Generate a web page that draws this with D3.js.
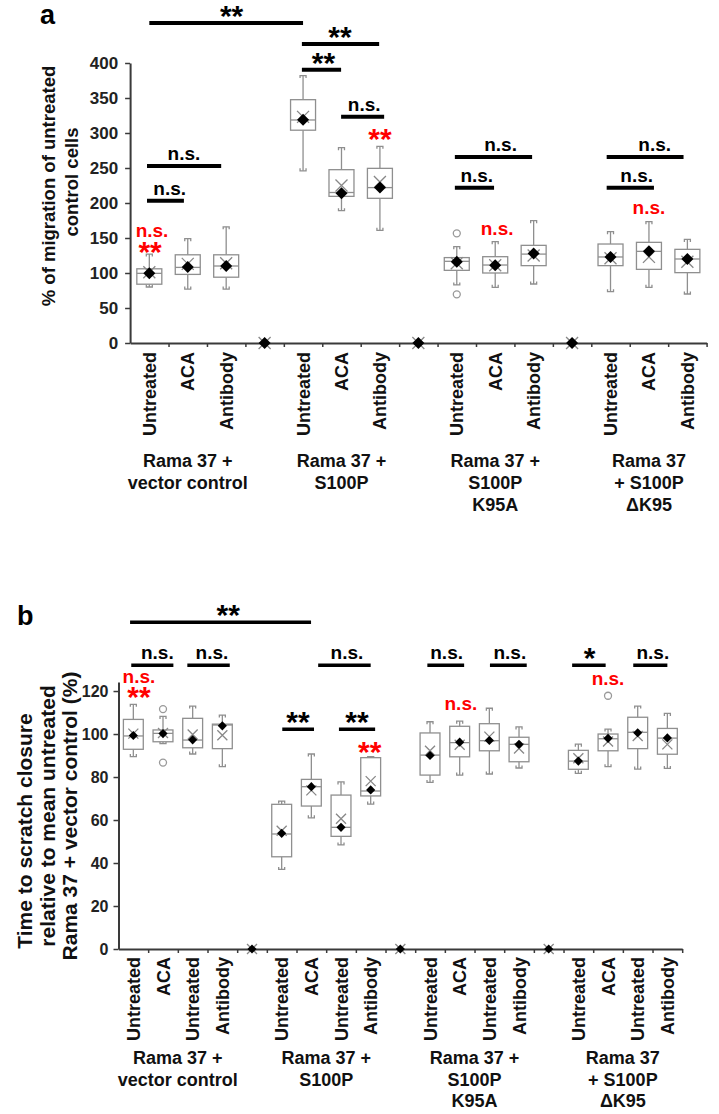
<!DOCTYPE html>
<html><head><meta charset="utf-8">
<script src="https://cdn.jsdelivr.net/npm/d3@7"></script>
<style>
body{margin:0;background:#fff}
text{font-family:"Liberation Sans",Arial,Helvetica,sans-serif;font-weight:bold}
</style>
</head><body>
<svg id="chart" width="719" height="1114"></svg>
<script>
// ---------------- Panel a data ----------------
const catsA = ["Untreated","ACA","Antibody","","Untreated","ACA","Antibody","","Untreated","ACA","Antibody","","Untreated","ACA","Antibody"];
const lowA  = [80, 77, 77, null, 246, 189, 161, null, 82.9, 79.5, 84.3, null, 73.3, 79.5, 70];
const q1A   = [84, 98, 94, null, 304, 209.5, 206.7, null, 103.8, 100, 110.5, null, 110.5, 105.2, 100.5];
const medA  = [99.5, 108, 110, null, 318.6, 215, 222, null, 116.7, 111.4, 127, null, 122.9, 130.9, 120];
const q3A   = [106, 126, 126, null, 347.6, 247.6, 249.5, null, 122, 123.3, 139.5, null, 141.4, 143.8, 133.8];
const highA = [127, 149, 166, null, 382, 279, 281, null, 137.6, 144.8, 174.8, null, 159, 173.3, 148];
const diamondA = [99.5, 108.5, 110, 0, 319, 214, 222, 0, 116, 111, 128, 0, 123, 131, 120];
const crossA   = [101, 113, 114, 0, 323, 225, 230, 0, 114, 111, 125, 0, 121, 123, 116];
const outliersA = [[], [], [], [], [], [], [], [], [156.7, 69.5], [], [], [], [], [], []];
const groupsA = [
  {span:[0,2], lines:["Rama 37 +","vector control"]},
  {span:[4,6], lines:["Rama 37 +","S100P"]},
  {span:[8,10], lines:["Rama 37 +","S100P","K95A"]},
  {span:[12,14], lines:["Rama 37","+ S100P","\u0394K95"]}
];
const ticksA = [0,50,100,150,200,250,300,350,400];
const sigA = [
  {from:0, to:4, at:457, label:"**", tx:2.14},
  {from:3.97, to:5.98, at:427, label:"**", tx:4.96},
  {from:3.97, to:4.99, at:390.4, label:"**", tx:4.53},
  {from:4.99, to:6.11, at:323.3, label:"n.s.", tx:5.59},
  {from:-0.06, to:1.87, at:252.9, label:"n.s.", tx:0.9},
  {from:-0.06, to:0.9, at:203.3, label:"n.s.", tx:0.53},
  {from:7.95, to:9.96, at:265.7, label:"n.s.", tx:9.14},
  {from:7.95, to:8.97, at:221.9, label:"n.s.", tx:8.52},
  {from:11.9, to:13.9, at:265.7, label:"n.s.", tx:13.15},
  {from:11.9, to:13.13, at:221.9, label:"n.s.", tx:12.68}
];
const redA = [
  {at:0.07, v:151.4, label:"n.s."},
  {at:0.02, v:135.7, label:"**"},
  {at:6.0, v:297.1, label:"**"},
  {at:9.05, v:154.3, label:"n.s."},
  {at:13.0, v:184.3, label:"n.s."}
];

// ---------------- Panel b data ----------------
const catsB = ["Untreated","ACA","Untreated","Antibody","","Untreated","ACA","Untreated","Antibody","","Untreated","ACA","Untreated","Antibody","","Untreated","ACA","Untreated","Antibody"];
const lowB  = [89.5, 95.5, 90.7, 84.8, null, 37, 61, 48.4, 67.4, null, 77.5, 80.9, 81.4, 84.2, null, 81.7, 84.8, 83.7, 84];
const q1B   = [92.9, 96.4, 93.6, 93.2, null, 42.9, 66.5, 52.4, 71.2, null, 80.9, 89.4, 92.2, 87.1, null, 83.6, 92.2, 93.2, 90.6];
const medB  = [99.1, 100.3, 97.2, 104.2, null, 53.5, 75.5, 56.6, 73.5, null, 90.2, 96, 96.9, 95.2, null, 87.4, 97.8, 100.8, 98.1];
const q3B   = [106.8, 101.9, 107.3, 104.6, null, 67.3, 78.9, 71.6, 89, null, 100.5, 103.6, 104.8, 98.5, null, 92.4, 100, 107.8, 102.6];
const highB = [113.8, 108.2, 113, 108.8, null, 68.8, 90.7, 77.7, 89.5, null, 105.7, 106, 112, 103.3, null, 95.3, 102.3, 113, 109.6];
const diamondB = [99.3, 100.2, 97.3, 103.8, 0, 53.8, 75.5, 56.6, 74, 0, 90, 96.2, 97, 95.2, 0, 87.4, 98, 100.6, 98.2];
const crossB   = [100.2, 100.5, 99.8, 99.4, 0, 55, 73.8, 60.6, 78.1, 0, 92.2, 95, 98.8, 93.3, 0, 88.7, 96.5, 99.1, 95.2];
const outliersB = [[], [111.6, 86.7], [], [], [], [], [], [], [], [], [], [], [], [], [], [], [117.8], [], []];
const groupsB = [
  {span:[0,3], lines:["Rama 37 +","vector control"]},
  {span:[5,8], lines:["Rama 37 +","S100P"]},
  {span:[10,13], lines:["Rama 37 +","S100P","K95A"]},
  {span:[15,18], lines:["Rama 37","+ S100P","\u0394K95"]}
];
const ticksB = [0,20,40,60,80,100,120];
const sigB = [
  {from:-0.11, to:5.99, at:151.95, label:"**", tx:3.2},
  {from:-0.07, to:1.35, at:131.95, label:"n.s.", tx:0.81},
  {from:1.82, to:3.25, at:131.95, label:"n.s.", tx:2.65},
  {from:6.23, to:8.0, at:131.95, label:"n.s.", tx:7.2},
  {from:5.02, to:6.09, at:102.2, label:"**", tx:5.55},
  {from:6.93, to:8.15, at:102.2, label:"**", tx:7.54},
  {from:9.91, to:11.15, at:131.95, label:"n.s.", tx:10.56},
  {from:12.02, to:13.26, at:131.95, label:"n.s.", tx:12.69},
  {from:14.79, to:15.92, at:131.95, label:"*", tx:15.38},
  {from:16.85, to:18.0, at:131.95, label:"n.s.", tx:17.51}
];
const redB = [
  {at:0.19, v:123.6, label:"n.s."},
  {at:0.19, v:118.9, label:"**"},
  {at:7.97, v:93.3, label:"**"},
  {at:11.04, v:111.2, label:"n.s."},
  {at:16.0, v:122.8, label:"n.s."}
];

// ---------------- drawing ----------------
const svg = d3.select("#chart");
const BOX = "#8f8f8f";
const AX = "#3a3a3a";
const STAR = 30;

function drawPanel(P) {
  const g = svg.append("g");
  const n = P.cats.length;
  const xb = d3.scaleBand().domain(d3.range(n)).range([P.x0, P.x1]).padding(0);
  const pos = f => xb(0) + (f + 0.5) * xb.step();
  const y = d3.scaleLinear().domain(P.yDomain).range(P.yRange);
  const y0 = y(0);

  // y axis
  const ya = g.append("g").attr("transform", `translate(${P.x0},0)`)
    .call(d3.axisLeft(y).tickValues(P.ticks).tickSize(5).tickPadding(P.tickPad).tickSizeOuter(0));
  ya.select(".domain").attr("stroke", AX).attr("stroke-width", 2);
  ya.selectAll(".tick line").attr("stroke", AX).attr("stroke-width", 1.5);
  ya.selectAll(".tick text").attr("font-size", P.tickFont).attr("fill", "#222")
    .attr("font-family", '"Liberation Sans",Arial,sans-serif').attr("font-weight", "bold");

  // x axis with ticks at band boundaries
  const xe = d3.scaleLinear().domain([0, n]).range([P.x0, P.x1]);
  const xa = g.append("g").attr("transform", `translate(0,${y0})`)
    .call(d3.axisBottom(xe).tickValues(d3.range(1, n + 1)).tickSize(4).tickFormat("").tickSizeOuter(0));
  xa.select(".domain").attr("stroke", AX).attr("stroke-width", 2);
  xa.selectAll(".tick line").attr("stroke", AX).attr("stroke-width", 1.5);

  // boxes
  const w = xb.bandwidth() * P.boxFrac;
  const cap = P.capHalf;
  d3.range(n).forEach(i => {
    const cx = pos(i);
    if (P.q1[i] != null) {
      const bg = g.append("g").attr("stroke", BOX).attr("stroke-width", 1.3).attr("fill", "none");
      bg.append("line").attr("x1", cx).attr("x2", cx).attr("y1", y(P.q3[i])).attr("y2", y(P.high[i]));
      bg.append("line").attr("x1", cx).attr("x2", cx).attr("y1", y(P.q1[i])).attr("y2", y(P.low[i]));
      const yh = y(P.high[i]), yl = y(P.low[i]);
      bg.append("path").attr("d", `M${cx-cap},${yh+2.5}V${yh}H${cx+cap}V${yh+2.5}`);
      bg.append("path").attr("d", `M${cx-cap},${yl-2.5}V${yl}H${cx+cap}V${yl-2.5}`);
      bg.append("rect").attr("x", cx - w/2).attr("y", y(P.q3[i]))
        .attr("width", w).attr("height", y(P.q1[i]) - y(P.q3[i])).attr("fill", "#fff");
      bg.append("line").attr("x1", cx - w/2).attr("x2", cx + w/2)
        .attr("y1", y(P.med[i])).attr("y2", y(P.med[i]));
    }
    P.outliers[i].forEach(v => {
      g.append("circle").attr("cx", cx).attr("cy", y(v)).attr("r", P.outR)
        .attr("fill", "none").attr("stroke", "#999").attr("stroke-width", 1.3);
    });
    // mean cross
    const cyc = y(P.cross[i]), h = P.crossHalf;
    g.append("path").attr("d", `M${cx-h},${cyc-h}L${cx+h},${cyc+h}M${cx-h},${cyc+h}L${cx+h},${cyc-h}`)
      .attr("stroke", "#888").attr("stroke-width", 1.3).attr("fill", "none");
    // diamond
    g.append("path").attr("d", d3.symbol(d3.symbolSquare, P.diamondArea)())
      .attr("transform", `translate(${cx},${y(P.diamond[i])}) rotate(45)`)
      .attr("fill", "#000");
  });

  // category labels (rotated)
  d3.range(n).forEach(i => {
    if (!P.cats[i]) return;
    g.append("text").attr("transform", `translate(${pos(i) + 6.5},${y0 + P.catGap}) rotate(-90)`)
      .attr("text-anchor", "end").attr("font-size", 18).attr("fill", "#111").text(P.cats[i]);
  });

  // group labels
  P.groups.forEach(gr => {
    const cx = (pos(gr.span[0]) + pos(gr.span[1])) / 2;
    gr.lines.forEach((t, k) => {
      g.append("text").attr("x", cx).attr("y", y0 + P.grpBase + k * P.grpStep)
        .attr("text-anchor", "middle").attr("font-size", 18).attr("fill", "#111").text(t);
    });
  });

  // significance bars
  P.sig.forEach(s => {
    const ly = y(s.at);
    g.append("line").attr("x1", pos(s.from)).attr("x2", pos(s.to)).attr("y1", ly).attr("y2", ly)
      .attr("stroke", "#000").attr("stroke-width", P.sigW);
    const star = s.label.indexOf("*") >= 0;
    g.append("text").attr("x", pos(s.tx)).attr("y", star ? ly + 3 : ly - 6)
      .attr("text-anchor", "middle").attr("font-size", star ? STAR : 19).attr("fill", "#000").text(s.label);
  });
  P.red.forEach(r => {
    const star = r.label.indexOf("*") >= 0;
    g.append("text").attr("x", pos(r.at)).attr("y", star ? y(r.v) + 14 : y(r.v))
      .attr("text-anchor", "middle").attr("font-size", star ? STAR : 19).attr("fill", "#ff0000").text(r.label);
  });
  return g;
}

drawPanel({
  cats: catsA, low: lowA, q1: q1A, med: medA, q3: q3A, high: highA,
  diamond: diamondA, cross: crossA, outliers: outliersA, groups: groupsA,
  sig: sigA, red: redA, ticks: ticksA,
  x0: 130.1, x1: 706.6, yDomain: [0, 400], yRange: [343, 63],
  tickFont: 17, tickPad: 7, boxFrac: 0.65, capHalf: 3, crossHalf: 6, diamondArea: 72, outR: 3.5,
  catGap: 9, grpBase: 124, grpStep: 22, sigW: 4
});
drawPanel({
  cats: catsB, low: lowB, q1: q1B, med: medB, q3: q3B, high: highB,
  diamond: diamondB, cross: crossB, outliers: outliersB, groups: groupsB,
  sig: sigB, red: redB, ticks: ticksB,
  x0: 118.5, x1: 682.2, yDomain: [0, 124.2], yRange: [949, 682],
  tickFont: 16, tickPad: 5, boxFrac: 0.67, capHalf: 3, crossHalf: 5, diamondArea: 42, outR: 3.5,
  catGap: 8, grpBase: 115, grpStep: 21.5, sigW: 3.5
});

// panel letters
svg.append("text").attr("x", 40).attr("y", 24).attr("font-size", 27).attr("fill", "#000").text("a");
svg.append("text").attr("x", 17).attr("y", 625).attr("font-size", 27).attr("fill", "#000").text("b");

// y axis titles
function vtext(x, yc, size, t) {
  svg.append("text").attr("transform", `translate(${x},${yc}) rotate(-90)`)
    .attr("text-anchor", "middle").attr("font-size", size).attr("fill", "#111").text(t);
}
vtext(55, 186, 18.5, "% of migration of untreated");
vtext(78, 182, 18.5, "control cells");
vtext(32, 831, 21, "Time to scratch closure");
vtext(55, 816, 21, "relative to mean untreated");
vtext(77, 816, 21, "Rama 37 + vector control (%)");
</script>
</body></html>
